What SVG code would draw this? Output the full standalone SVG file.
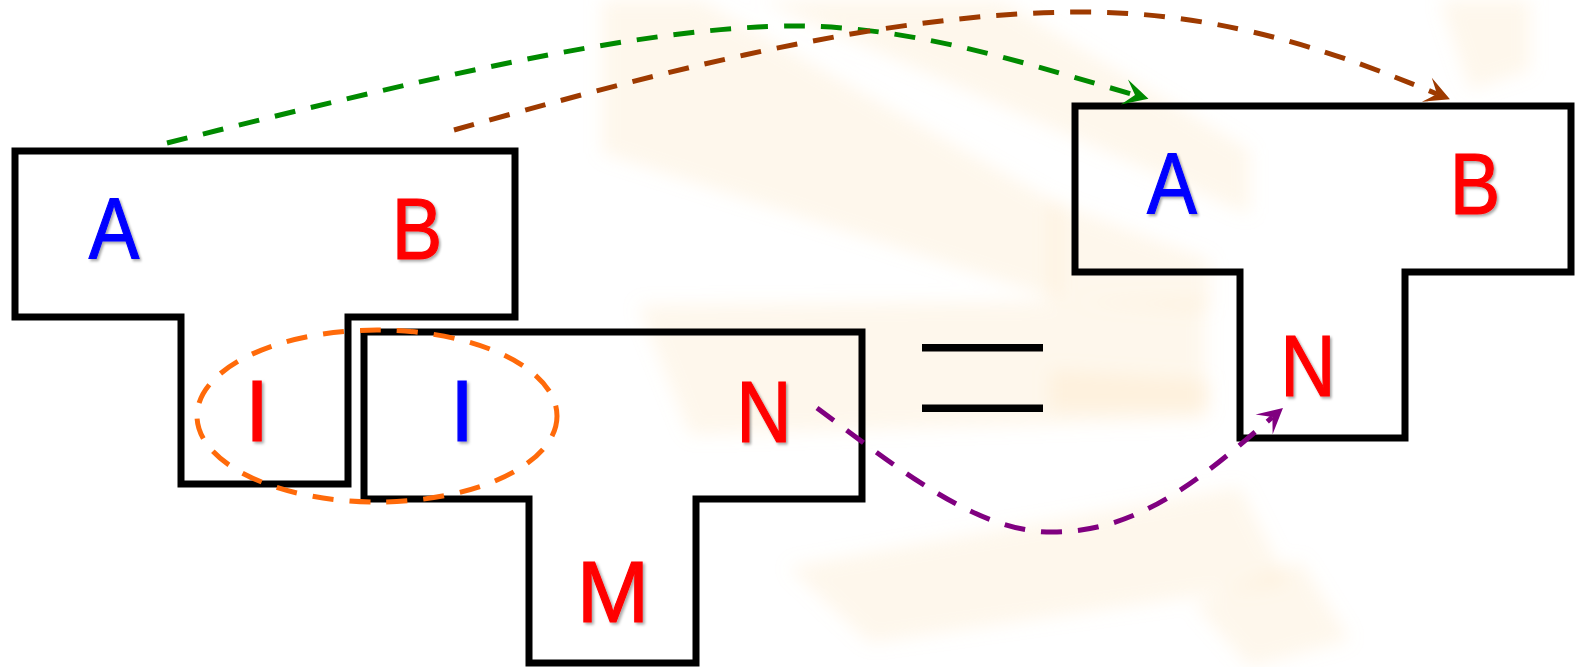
<svg xmlns="http://www.w3.org/2000/svg" width="1579" height="667" viewBox="0 0 1579 667">
  <style>
    .tshape { fill: none; stroke: #000; stroke-width: 7; stroke-linejoin: miter; }
    .lbl { font-family: "Liberation Sans", Arial, sans-serif; font-size: 87px; text-anchor: middle; filter: url(#shadow); stroke-width: 1.2; }
    .blue { fill: #0000ff; stroke: #0000ff; }
    .red { fill: #ff0000; stroke: #ff0000; }
    .conn { fill: none; stroke-width: 5; stroke-dasharray: 21 16; stroke-linecap: butt; }
    .ray { fill: #f9d9a0; opacity: 0.2; }
  </style>
  <defs>
    <filter id="shadow" x="-20%" y="-20%" width="150%" height="150%">
      <feDropShadow dx="2" dy="2" stdDeviation="1.5" flood-color="#000" flood-opacity="0.35"/>
    </filter>
    <filter id="soft" x="-10%" y="-10%" width="120%" height="120%">
      <feGaussianBlur stdDeviation="9"/>
    </filter>
    <marker id="arrGreen" markerUnits="userSpaceOnUse" markerWidth="40" markerHeight="40" refX="0" refY="0" viewBox="-15 -20 35 40" orient="auto" overflow="visible">
      <path d="M14,0 L-11,-13 L0,0 L-11,13 Z" fill="#008a00"/>
    </marker>
    <marker id="arrBrown" markerUnits="userSpaceOnUse" markerWidth="40" markerHeight="40" refX="0" refY="0" viewBox="-15 -20 35 40" orient="auto" overflow="visible">
      <path d="M14,0 L-11,-13 L0,0 L-11,13 Z" fill="#9e3a00"/>
    </marker>
    <marker id="arrPurple" markerUnits="userSpaceOnUse" markerWidth="40" markerHeight="40" refX="0" refY="0" viewBox="-15 -20 35 40" orient="auto" overflow="visible">
      <path d="M14,0 L-11,-13 L0,0 L-11,13 Z" fill="#800080"/>
    </marker>
  </defs>

  <rect width="1579" height="667" fill="#ffffff"/>

  <g id="watermark" filter="url(#soft)">
    <polygon class="ray" points="602,0 700,0 1060,205 1060,300 602,153"/>
    <polygon class="ray" points="760,0 1000,0 1250,150 1250,215"/>
    <polygon class="ray" points="638,305 1205,300 1205,420 690,435"/>
    <polygon class="ray" points="788,567 1240,487 1288,583 870,643"/>
    <polygon class="ray" points="1195,605 1300,560 1350,640 1250,667"/>
    <polygon class="ray" points="1440,0 1530,0 1530,70 1470,90"/>
    <polygon class="ray" points="1050,200 1210,260 1210,310 1050,300"/>
    <polygon class="ray" points="1050,370 1210,380 1210,410 1050,410"/>
  </g>

  <g id="node-left-T">
    <polygon class="tshape" points="15,151 515,151 515,317 348,317 348,484 181,484 181,317 15,317"/>
    <text class="lbl blue" transform="translate(114,259) scale(0.87,1)">A</text>
    <text class="lbl red" transform="translate(417,259) scale(0.87,1)">B</text>
    <text class="lbl red" x="257" y="441">I</text>
  </g>

  <g id="node-middle-T">
    <polygon class="tshape" points="364,332 862,332 862,499 696,499 696,663 529,663 529,499 364,499"/>
    <text class="lbl blue" x="462" y="441">I</text>
    <text class="lbl red" transform="translate(764,442) scale(0.88,1)">N</text>
    <text class="lbl red" x="613" y="622">M</text>
  </g>

  <g id="equals">
    <rect x="922" y="344" width="121" height="7.5" fill="#000"/>
    <rect x="922" y="404.5" width="121" height="7.5" fill="#000"/>
  </g>

  <g id="node-right-T">
    <polygon class="tshape" points="1075,106 1571,106 1571,272 1405,272 1405,438 1240,438 1240,272 1075,272"/>
    <text class="lbl blue" transform="translate(1172,214) scale(0.86,1)">A</text>
    <text class="lbl red" transform="translate(1475,214) scale(0.87,1)">B</text>
    <text class="lbl red" transform="translate(1308,396) scale(0.88,1)">N</text>
  </g>

  <g id="connectors">
    <ellipse cx="377" cy="416" rx="180" ry="86" class="conn" stroke="#ff6a0a"/>
    <path class="conn" stroke="#008a00" d="M167,143 C400,85 640,25 800,26 C920,27 1040,68 1135,95" marker-end="url(#arrGreen)"/>
    <path class="conn" stroke="#9e3a00" d="M454,130 C650,75 880,12 1083,12 C1230,12 1350,58 1437,94" marker-end="url(#arrBrown)"/>
    <path class="conn" stroke="#800080" d="M817,408 C900,470 980,535 1057,532 C1140,530 1200,480 1272.4,417.1" marker-end="url(#arrPurple)"/>
  </g>
</svg>
